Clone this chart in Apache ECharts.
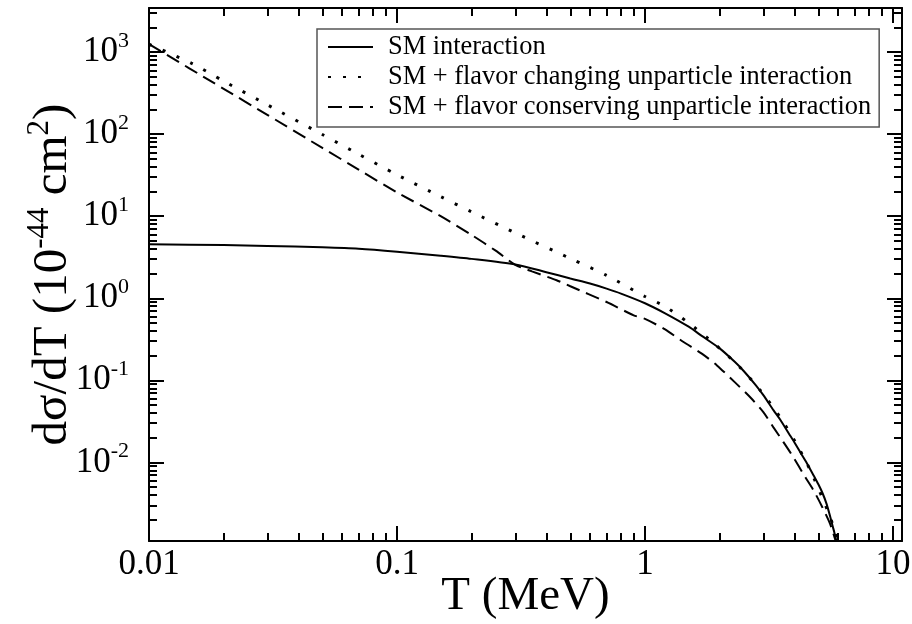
<!DOCTYPE html>
<html>
<head>
<meta charset="utf-8">
<script src="https://cdn.jsdelivr.net/npm/echarts@6/dist/echarts.min.js"></script>
<style>
html,body{margin:0;padding:0;background:#fff;}
#chart{width:912px;height:624px;}
</style>
</head>
<body>
<div id="chart"></div>
<script>
// ---- data ----
const seriesNames = [
  'SM interaction',
  'SM + flavor changing unparticle interaction',
  'SM + flavor conserving unparticle interaction'
];
// SM interaction (solid)
const smT = [0.01, 0.02, 0.03, 0.05, 0.07, 0.1, 0.15, 0.2, 0.3, 0.4, 0.5, 0.6, 0.7, 0.8, 1.0, 1.2, 1.5, 1.7, 2.0, 2.3, 2.5, 2.8, 3.0, 3.3, 3.5, 3.8, 4.0, 4.3, 4.5, 4.8, 5.0, 5.2, 5.4, 5.6, 5.7, 5.8, 5.9, 6.0];
const smV = [4.55, 4.45, 4.35, 4.18, 4.02, 3.7, 3.3, 3.02, 2.58, 2.08, 1.74, 1.51, 1.31, 1.14, 0.87, 0.66, 0.45, 0.345, 0.245, 0.168, 0.13, 0.087, 0.066, 0.043, 0.0335, 0.0225, 0.0176, 0.0122, 0.0097, 0.0068, 0.0054, 0.0042, 0.0031, 0.0021, 0.0017, 0.0014, 0.00112, 0.0009];
// SM + flavor changing unparticle interaction (dotted)
const fcT = [0.01, 0.015, 0.02, 0.03, 0.05, 0.07, 0.1, 0.15, 0.2, 0.3, 0.5, 0.7, 1.0, 1.2, 1.5, 1.9, 2.4, 2.9, 3.5, 4.06, 4.66, 5.24, 5.6, 5.83, 6.0];
const fcV = [1250, 720, 443, 228, 99, 57, 32, 17.3, 11.3, 6.25, 3.05, 1.9, 1.05, 0.8, 0.5, 0.28, 0.147, 0.077, 0.0357, 0.0172, 0.0078, 0.00344, 0.0021, 0.00141, 0.001];
// SM + flavor conserving unparticle interaction (dashed)
const fconT = [0.01, 0.02, 0.03, 0.05, 0.07, 0.1, 0.15, 0.2, 0.25, 0.3, 0.35, 0.44, 0.5, 0.7, 0.9, 1.0, 1.2, 1.43, 1.7, 1.95, 2.3, 2.65, 3.0, 3.29, 3.6, 3.96, 4.4, 4.78, 5.2, 5.57, 5.83, 6.0];
const fconV = [1250, 357, 172, 68, 37, 19.5, 10.0, 5.9, 3.8, 2.55, 2.13, 1.66, 1.4, 0.9, 0.62, 0.56, 0.42, 0.293, 0.21, 0.152, 0.095, 0.0625, 0.041, 0.0269, 0.018, 0.0116, 0.0068, 0.00456, 0.0028, 0.00179, 0.00118, 0.0009];

// axes
const xMin = 0.01, xMax = 10.87;
const yMin = 0.0011, yMax = 3450;
const xMajorTicks = [0.01, 0.1, 1, 10];
const xTickLabels = ['0.01', '0.1', '1', '10'];
const yMajorTicks = [0.01, 0.1, 1, 10, 100, 1000];
const yTickExps = ['-2', '-1', '0', '1', '2', '3'];
const xTitle = 'T (MeV)';
const yTitle = 'dσ/dT (10{sup|-44} cm{sup|2})';

function minorTicks(lo, hi, d0, d1) {
  const out = [];
  for (let e = d0; e <= d1; e++) {
    const d = Math.pow(10, e);
    for (let k = 2; k <= 9; k++) {
      const v = +(k * d).toPrecision(6);
      if (v > lo && v < hi) out.push(v);
    }
  }
  return out;
}
const xMinorTicks = minorTicks(xMin, xMax, -2, 1);
const yMinorTicks = minorTicks(yMin, yMax, -3, 3);

const FONT = 'Liberation Serif';
const black = '#000';

function xAxisDef(pos, major) {
  return {
    type: 'log', logBase: 10, min: xMin, max: xMax, position: pos, gridIndex: 0,
    splitLine: { show: false },
    axisLine: { show: major, onZero: false, lineStyle: { color: black, width: 2 } },
    axisTick: { show: true, inside: true, length: major ? 15 : 8,
      lineStyle: { color: black, width: 2 },
      customValues: major ? xMajorTicks : xMinorTicks },
    axisLabel: (pos === 'bottom' && major) ? {
      show: true, customValues: xMajorTicks, margin: 6,
      fontFamily: FONT, fontSize: 35, color: black,
      formatter: function (v) {
        const i = xMajorTicks.findIndex(t => Math.abs(Math.log10(t) - Math.log10(v)) < 1e-6);
        return i >= 0 ? xTickLabels[i] : '';
      }
    } : { show: false },
    name: (pos === 'bottom' && major) ? xTitle : '',
    nameLocation: 'middle', nameGap: 32, nameMoveOverlap: false,
    nameTextStyle: { fontFamily: FONT, fontSize: 47, color: black }
  };
}
function yAxisDef(pos, major) {
  return {
    type: 'log', logBase: 10, min: yMin, max: yMax, position: pos, gridIndex: 0,
    splitLine: { show: false },
    axisLine: { show: major, onZero: false, lineStyle: { color: black, width: 2 } },
    axisTick: { show: true, inside: true, length: major ? 15 : 8,
      lineStyle: { color: black, width: 2 },
      customValues: major ? yMajorTicks : yMinorTicks },
    axisLabel: (pos === 'left' && major) ? {
      show: true, customValues: yMajorTicks, margin: 20,
      fontFamily: FONT, fontSize: 35, color: black,
      formatter: function (v) {
        const i = yMajorTicks.findIndex(t => Math.abs(Math.log10(t) - Math.log10(v)) < 1e-6);
        return i >= 0 ? '{b|10}{s|' + yTickExps[i] + '}' : '';
      },
      rich: {
        b: { fontFamily: FONT, fontSize: 35, lineHeight: 44, color: black },
        s: { fontFamily: FONT, fontSize: 22, lineHeight: 22, verticalAlign: 'top', color: black }
      }
    } : { show: false },
    name: (pos === 'left' && major) ? yTitle : '',
    nameLocation: 'middle', nameGap: 67, nameRotate: 90, nameMoveOverlap: false,
    nameTextStyle: {
      fontFamily: FONT, fontSize: 49, color: black, lineHeight: 58,
      rich: {
        sup: { fontFamily: FONT, fontSize: 31, lineHeight: 30, verticalAlign: 'top', color: black }
      }
    }
  };
}

function pairs(ts, vs) { return ts.map((t, i) => [t, vs[i]]); }

const chart = echarts.init(document.getElementById('chart'), null, { renderer: 'canvas' });
chart.setOption({
  backgroundColor: '#fff',
  animation: false,
  grid: { left: 149, top: 8, width: 753, height: 533, outerBoundsMode: 'none', containLabel: false },
  xAxis: [xAxisDef('bottom', true), xAxisDef('bottom', false), xAxisDef('top', true), xAxisDef('top', false)],
  yAxis: [yAxisDef('left', true), yAxisDef('left', false), yAxisDef('right', true), yAxisDef('right', false)],
  legend: {
    show: true, orient: 'vertical', left: 317, top: 29,
    data: seriesNames,
    backgroundColor: '#fff', borderColor: '#555', borderWidth: 1.5,
    padding: [3, 8, 5, 10], itemGap: 0, itemWidth: 45, itemHeight: 14,
    selectedMode: false,
    itemStyle: { color: 'rgba(0,0,0,0)', borderColor: 'rgba(0,0,0,0)', borderWidth: 0, opacity: 0 },
    textStyle: { fontFamily: FONT, fontSize: 26.4, color: black, lineHeight: 30, padding: [0, 0, 0, 10] }
  },
  series: [
    { name: seriesNames[0], type: 'line', symbol: 'none', smooth: 0.25, data: pairs(smT, smV),
      lineStyle: { color: black, width: 2, type: 'solid' }, itemStyle: { color: black }, z: 3 },
    { name: seriesNames[1], type: 'line', symbol: 'none', smooth: 0.25, data: pairs(fcT, fcV),
      lineStyle: { color: black, width: 3, type: [3, 12], cap: 'butt' }, itemStyle: { color: black }, z: 2 },
    { name: seriesNames[2], type: 'line', symbol: 'none', smooth: 0.25, data: pairs(fconT, fconV),
      lineStyle: { color: black, width: 2, type: [14, 7] }, itemStyle: { color: black }, z: 2 }
  ]
});
</script>
</body>
</html>
